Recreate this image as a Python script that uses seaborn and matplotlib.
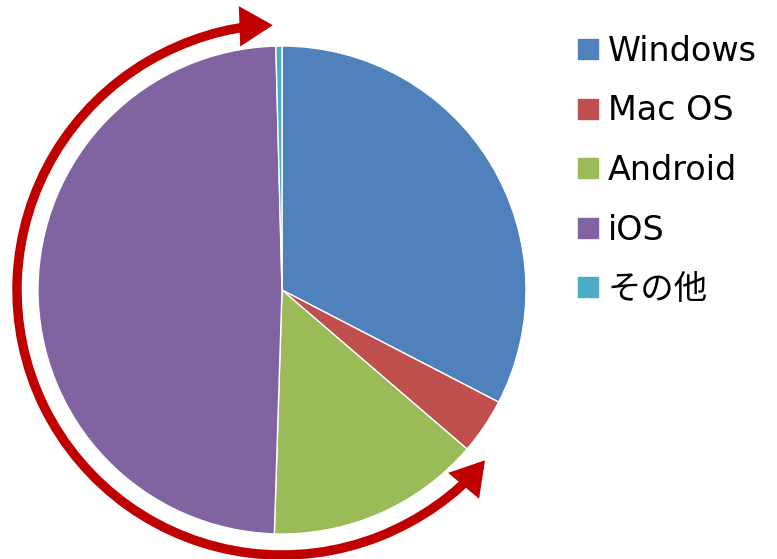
import numpy as np
import matplotlib
matplotlib.use("Agg")
import matplotlib.pyplot as plt
import seaborn as sns
from matplotlib.path import Path
from matplotlib.patches import FancyArrowPatch
from matplotlib.lines import Line2D

sns.set_style("white")
plt.rcParams['font.family'] = ['DejaVu Sans', 'Noto Sans CJK JP']
plt.rcParams['text.color'] = 'black'

labels = ["Windows", "Mac OS", "Android", "iOS", "その他"]
values = [32.6, 3.7, 14.2, 49.1, 0.4]
colors = ["#4F81BD", "#C0504D", "#9BBB59", "#8064A2", "#4BACC6"]

W, H = 777, 559
fig = plt.figure(figsize=(W / 100, H / 100), dpi=100)
ax = fig.add_axes([0, 0, 1, 1])

cx, cy, R = 282, H - 290, 244
ax.pie(values, colors=colors, startangle=90, counterclock=False,
       center=(cx, cy), radius=R,
       wedgeprops=dict(edgecolor="white", linewidth=1.0))
ax.set_xlim(0, W)
ax.set_ylim(0, H)
ax.set_aspect("equal")
ax.axis("off")

# red double-headed arc arrow around the left side
ra = 265
arc = Path.arc(92, 320)
verts = arc.vertices * ra + np.array([cx, cy])
arc_path = Path(verts, arc.codes)
arrow = FancyArrowPatch(path=arc_path,
                        arrowstyle="<|-|>,head_length=14,head_width=8.5",
                        mutation_scale=1, linewidth=6.8, color="#C00000",
                        shrinkA=0, shrinkB=0, joinstyle="miter")
ax.add_patch(arrow)

handles = [Line2D([], [], marker="s", linestyle="none", markersize=14.5,
                  markerfacecolor=c, markeredgecolor=c) for c in colors]
fs = 24
leg = ax.legend(handles, labels, loc="upper left",
                bbox_to_anchor=(576.3 / W, 1 - 35 / H),
                bbox_transform=fig.transFigure,
                frameon=False, fontsize=fs, handlelength=0.7,
                handletextpad=0.25, labelspacing=0.795,
                borderpad=0, borderaxespad=0, labelcolor="black")

fig.savefig("out.png", dpi=100)
